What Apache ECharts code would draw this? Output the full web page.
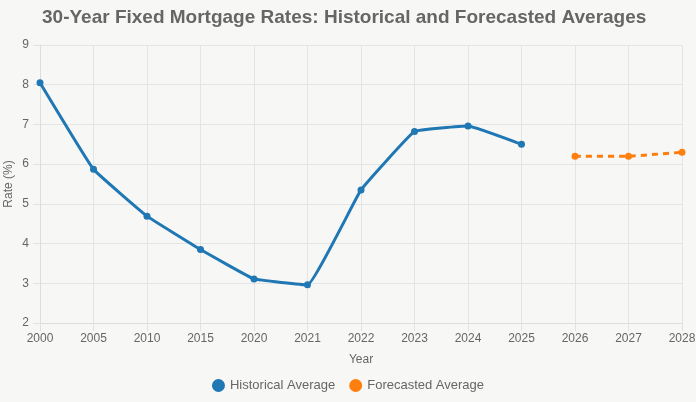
<!DOCTYPE html>
<html><head><meta charset="utf-8">
<script src="https://cdn.jsdelivr.net/npm/echarts@6/dist/echarts.min.js"></script>
<style>html,body{margin:0;padding:0;background:#f7f7f6;}#c{width:696px;height:402px;}</style>
</head><body><div id="c"></div>
<script>
const years = ['2000','2005','2010','2015','2020','2021','2022','2023','2024','2025','2026','2027','2028'];
const historical = [8.05,5.87,4.69,3.85,3.11,2.96,5.35,6.82,6.96,6.50,null,null,null];
const forecast = [null,null,null,null,null,null,null,null,null,null,6.20,6.20,6.30];
const yTicks = {min:2, max:9, interval:1};
const chart = echarts.init(document.getElementById('c'));
const font = 'Liberation Sans, Arial, sans-serif';
chart.setOption({
  backgroundColor:'#f7f7f6',
  textStyle:{fontFamily:font},
  title:{text:'30-Year Fixed Mortgage Rates: Historical and Forecasted Averages',left:37,top:3,
    textStyle:{fontSize:19,fontWeight:'bold',color:'#666',fontFamily:font}},
  grid:{left:40,right:14,top:45,bottom:79,outerBoundsMode:'none',containLabel:false},
  legend:{bottom:5,left:'center',icon:'circle',itemWidth:13,itemHeight:13,itemGap:14,
    textStyle:{fontSize:13,color:'#666',fontFamily:font},
    data:['Historical Average','Forecasted Average']},
  xAxis:{type:'category',data:years,boundaryGap:false,name:'Year',nameLocation:'middle',nameGap:31,nameMoveOverlap:false,
    nameTextStyle:{color:'#666',fontSize:12},
    axisLine:{show:true,lineStyle:{color:'#ddd'}},
    axisTick:{show:true,length:8,lineStyle:{color:'#e2e2e2'}},
    axisLabel:{color:'#666',fontSize:12,margin:10},
    splitLine:{show:true,lineStyle:{color:'#e4e4e4'}}},
  yAxis:{type:'value',min:yTicks.min,max:yTicks.max,interval:yTicks.interval,name:'Rate (%)',nameLocation:'middle',nameGap:25,nameMoveOverlap:false,
    nameTextStyle:{color:'#666',fontSize:12},
    axisLine:{show:true,lineStyle:{color:'#ddd'}},
    axisTick:{show:true,length:7,lineStyle:{color:'#e2e2e2'}},
    axisLabel:{color:'#666',fontSize:12,margin:11},
    splitLine:{show:true,lineStyle:{color:'#e4e4e4'}}},
  series:[
    {name:'Historical Average',type:'line',data:historical,smooth:0.08,connectNulls:false,
      symbol:'circle',symbolSize:7,color:'#1f77b4',lineStyle:{width:3,color:'#1f77b4'},itemStyle:{color:'#1f77b4'}},
    {name:'Forecasted Average',type:'line',data:forecast,smooth:0.08,
      symbol:'circle',symbolSize:7,color:'#ff7f0e',lineStyle:{width:3,type:[6,5],color:'#ff7f0e'},itemStyle:{color:'#ff7f0e'}}
  ]
});
</script></body></html>
